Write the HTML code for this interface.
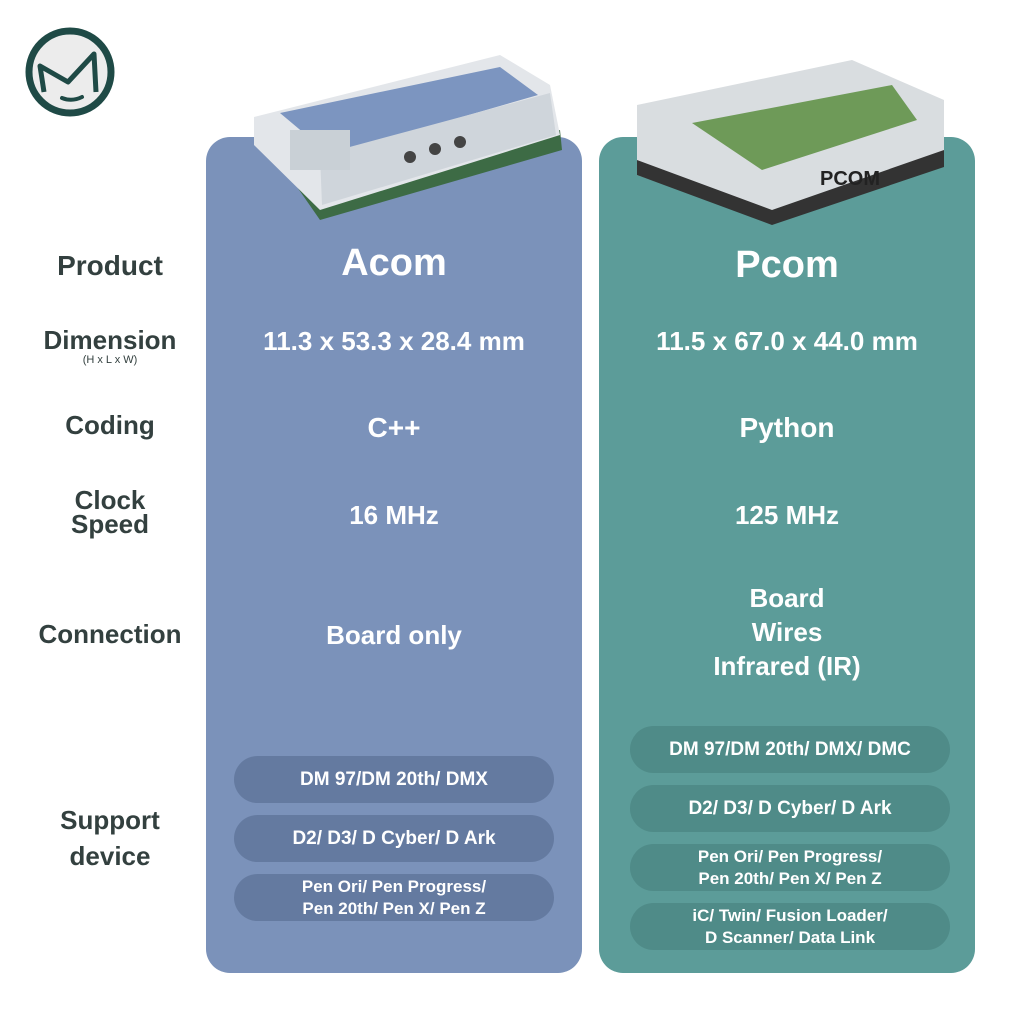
<!DOCTYPE html>
<html><head><style>
body{margin:0;width:1024px;height:1024px;background:#fff;position:relative;overflow:hidden;font-family:"Liberation Sans",sans-serif}
.a{position:absolute}
.panel{position:absolute;top:137px;width:376px;height:836px;border-radius:24px}
.lab{position:absolute;color:#33403f;font-weight:bold;font-size:26px;text-align:center;width:200px;left:10px;line-height:26px}
.v{position:absolute;color:#fff;font-weight:bold;text-align:center;width:376px;font-size:26px;line-height:34px}
.pill{position:absolute;width:320px;height:47px;border-radius:24px;color:#fff;font-weight:bold;font-size:17px;display:flex;align-items:center;justify-content:center;text-align:center;line-height:22px}
.pl{background:#647aa0}
.pr{background:#4f8b88}
</style></head><body>
<svg class="a" style="left:24px;top:26px" width="92" height="92" viewBox="0 0 92 92">
<circle cx="46" cy="46" r="41" fill="#ececec" stroke="#1f4a46" stroke-width="7"/>
<path d="M20 66 L16 40 L44 56 L70 28 L72 66" fill="none" stroke="#1f4a46" stroke-width="5" stroke-linejoin="round"/>
<path d="M38 72 Q48 76 58 71" fill="none" stroke="#1f4a46" stroke-width="4" stroke-linecap="round"/>
</svg>
<div class="panel" style="left:206px;background:#7b92ba"></div>
<div class="panel" style="left:599px;background:#5c9c99"></div>
<svg class="a" style="left:250px;top:45px" width="320" height="180" viewBox="0 0 320 180">
<polygon points="4,80 70,175 312,105 310,85 68,160" fill="#3d6b45"/>
<polygon points="4,72 250,10 300,40 310,90 70,165 4,100" fill="#e3e6ea"/>
<polygon points="30,68 250,22 288,50 80,110" fill="#7c95c0"/>
<polygon points="70,110 300,48 306,90 72,160" fill="#cfd5db"/>
<rect x="40" y="85" width="60" height="40" fill="#c9d0d6"/>
<circle cx="160" cy="112" r="6" fill="#444"/><circle cx="185" cy="104" r="6" fill="#444"/><circle cx="210" cy="97" r="6" fill="#444"/>
</svg>
<svg class="a" style="left:632px;top:45px" width="320" height="180" viewBox="0 0 320 180">
<polygon points="5,60 220,15 312,55 312,120 140,178 5,130" fill="#d9dde0"/>
<polygon points="5,115 140,165 312,105 312,122 140,180 5,130" fill="#333"/>
<polygon points="60,78 260,40 285,75 130,125" fill="#6e9a58"/>
<text x="188" y="140" font-size="20" font-weight="bold" fill="#222" font-family="Liberation Sans">PCOM</text>
</svg>
<div class="lab" style="top:253px;font-size:28px">Product</div>
<div class="lab" style="top:327px">Dimension<div style="font-size:11px;line-height:14px;font-weight:normal">(H x L x W)</div></div>
<div class="lab" style="top:412px">Coding</div>
<div class="lab" style="top:488px;line-height:24px">Clock<br>Speed</div>
<div class="lab" style="top:621px">Connection</div>
<div class="lab" style="top:802px;line-height:36px">Support<br>device</div>

<div class="v" style="left:206px;top:243px;font-size:38px;line-height:40px">Acom</div>
<div class="v" style="left:599px;top:245px;font-size:38px;line-height:40px">Pcom</div>
<div class="v" style="left:206px;top:324px">11.3 x 53.3 x 28.4 mm</div>
<div class="v" style="left:599px;top:324px">11.5 x 67.0 x 44.0 mm</div>
<div class="v" style="left:206px;top:411px;font-size:28px">C++</div>
<div class="v" style="left:599px;top:411px;font-size:28px">Python</div>
<div class="v" style="left:206px;top:498px">16 MHz</div>
<div class="v" style="left:599px;top:498px">125 MHz</div>
<div class="v" style="left:206px;top:618px">Board only</div>
<div class="v" style="left:599px;top:581px">Board<br>Wires<br>Infrared (IR)</div>

<div class="pill pl" style="left:234px;top:756px;font-size:19px">DM 97/DM 20th/ DMX</div>
<div class="pill pl" style="left:234px;top:815px;font-size:19px">D2/ D3/ D Cyber/ D Ark</div>
<div class="pill pl" style="left:234px;top:874px">Pen Ori/ Pen Progress/<br>Pen 20th/ Pen X/ Pen Z</div>
<div class="pill pr" style="left:630px;top:726px;font-size:19px">DM 97/DM 20th/ DMX/ DMC</div>
<div class="pill pr" style="left:630px;top:785px;font-size:19px">D2/ D3/ D Cyber/ D Ark</div>
<div class="pill pr" style="left:630px;top:844px">Pen Ori/ Pen Progress/<br>Pen 20th/ Pen X/ Pen Z</div>
<div class="pill pr" style="left:630px;top:903px">iC/ Twin/ Fusion Loader/<br>D Scanner/ Data Link</div>
</body></html>
